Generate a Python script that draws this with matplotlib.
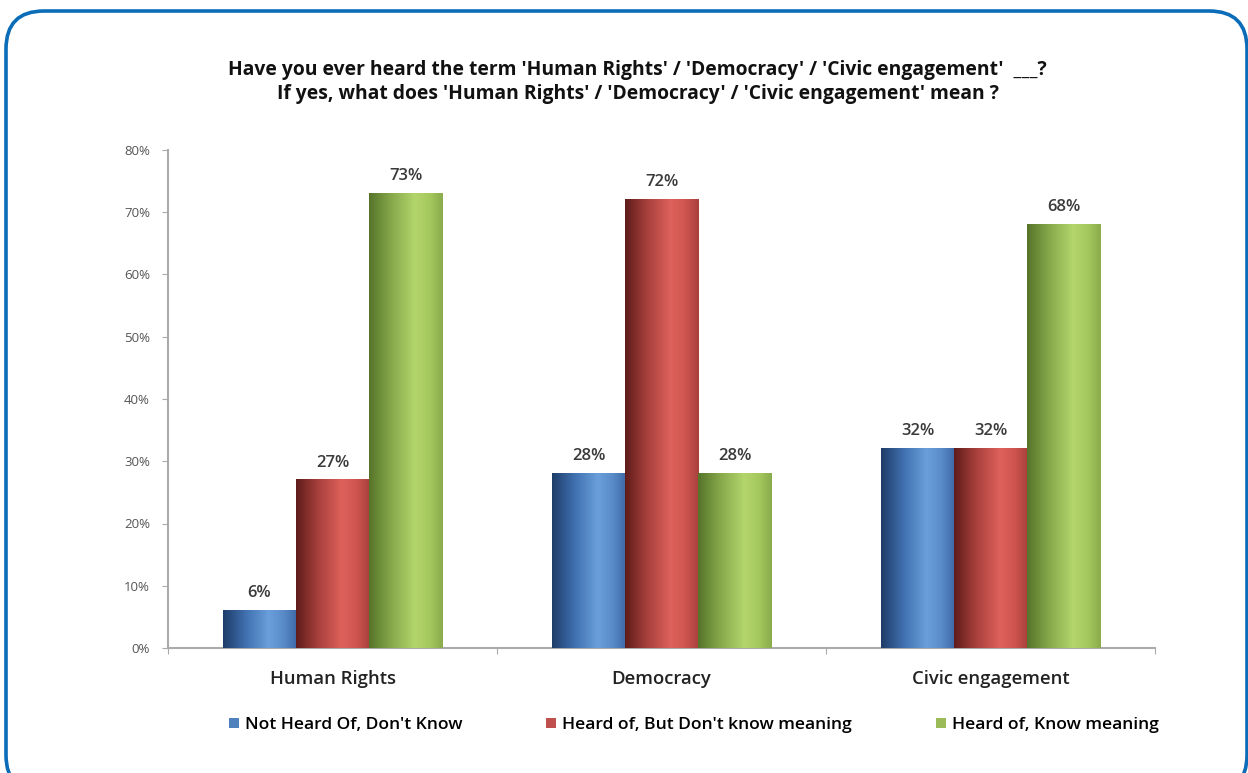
import numpy as np
import matplotlib.pyplot as plt
from matplotlib.colors import LinearSegmentedColormap
from matplotlib.patches import FancyBboxPatch, Patch

# Datos de la encuesta
categorias = ['Human Rights', 'Democracy', 'Civic engagement']
series = ["Not Heard Of, Don't Know", "Heard of, But Don't know meaning", 'Heard of, Know meaning']
no_conoce = [6, 28, 32]
conoce_sin_significado = [27, 72, 32]
conoce_significado = [73, 28, 68]
valores = [no_conoce, conoce_sin_significado, conoce_significado]
ticks_y = [0, 10, 20, 30, 40, 50, 60, 70, 80]

# Colores base y sombreado cilíndrico de cada serie
colores = ['#4f81bd', '#c0504d', '#9bbb59']
sombreados = [
    ['#1e3c68', '#3f6fae', '#6a9fdc', '#5a8bc9', '#3e6aa6'],
    ['#5e1c1a', '#a8403c', '#de615c', '#cf5450', '#a8403c'],
    ['#56742a', '#86a84a', '#b3d56c', '#a6c95e', '#8aab4c'],
]

plt.rcParams['font.family'] = ['Open Sans', 'DejaVu Sans']

fig = plt.figure(figsize=(12.48, 7.73), dpi=100)
ax = fig.add_axes([168 / 1248, 1 - 648 / 773, (1155 - 168) / 1248, (648 - 150) / 773])

# Marco azul redondeado
marco = FancyBboxPatch((6, -20), 1241, 773 - 11 + 20, transform=None,
                       boxstyle='round,pad=0,rounding_size=38',
                       facecolor='none', edgecolor='#0b6cb8', linewidth=2.6,
                       clip_on=False)
fig.patches.append(marco)

x = np.arange(len(categorias))
ancho = 0.222
gradiente = np.linspace(0, 1, 256).reshape(1, -1)

for i, (vals, base, tonos) in enumerate(zip(valores, colores, sombreados)):
    pos = x + (i - 1) * ancho
    barras = ax.bar(pos, vals, width=ancho, color=base, zorder=2, linewidth=0)
    cmap = LinearSegmentedColormap.from_list(f's{i}', list(zip([0, 0.3, 0.62, 0.82, 1], tonos)))
    for b, v in zip(barras, vals):
        x0 = b.get_x()
        ax.imshow(gradiente, extent=[x0, x0 + ancho, 0, v], aspect='auto',
                  cmap=cmap, zorder=3, interpolation='bicubic')
        ax.text(x0 + ancho / 2, v + 1.5, f'{v}%', ha='center', va='bottom',
                fontsize=12, fontweight='semibold', color='#3a3a3a', zorder=4)

ax.set_xlim(-0.5, 2.5)
ax.set_ylim(0, 80)
ax.set_yticks(ticks_y)
ax.set_yticklabels([f'{t}%' for t in ticks_y], fontsize=9.5, color='#555555')
ax.set_xticks([-0.5, 0.5, 1.5, 2.5])
ax.set_xticklabels([])
ax.set_xticks(x, minor=True)
ax.set_xticklabels(categorias, minor=True, fontsize=13.3, fontweight='semibold', color='#222222')
ax.tick_params(axis='x', which='minor', length=0, pad=16)
ax.tick_params(axis='x', which='major', length=4, color='#aaaaaa')
ax.tick_params(axis='y', length=4, color='#aaaaaa', pad=9)

for lado in ['top', 'right']:
    ax.spines[lado].set_visible(False)
for lado in ['left', 'bottom']:
    ax.spines[lado].set_color('#aaaaaa')
    ax.spines[lado].set_linewidth(1.5)

# Título en dos líneas
fig.text(0.511, 1 - 70 / 773, "Have you ever heard the term 'Human Rights' / 'Democracy' / 'Civic engagement'  ___?",
         ha='center', va='center', fontsize=13.9, fontweight='bold', color='#111111')
fig.text(0.511, 1 - 94 / 773, "If yes, what does 'Human Rights' / 'Democracy' / 'Civic engagement' mean ?",
         ha='center', va='center', fontsize=13.9, fontweight='bold', color='#111111')

# Leyenda
manejadores = [Patch(facecolor=c) for c in colores]
fig.legend(manejadores, series, loc='center', bbox_to_anchor=(0.556, 1 - 725 / 773),
           ncol=3, frameon=False, handlelength=0.55, handleheight=0.55,
           handletextpad=0.35, columnspacing=4.8, prop={'weight': 'semibold', 'size': 12.6})

fig.savefig('out.png', dpi=100)
